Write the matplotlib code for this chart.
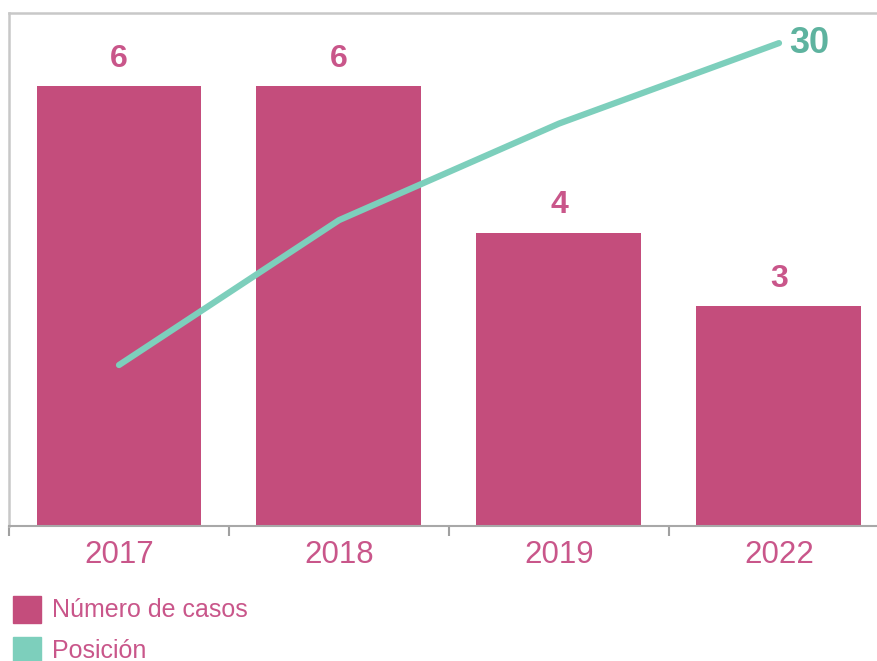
import matplotlib.pyplot as plt
from matplotlib.patches import Rectangle

# data
years = ["2017", "2018", "2019", "2022"]
casos = [6, 6, 4, 3]
posicion = [10, 19, 25, 30]

PINK = "#c44d7c"
TEXT_PINK = "#c9568a"
TEAL = "#7dcfbc"
TEAL_DARK = "#5eb39f"
GRAY = "#c8c8c8"

plt.rcParams['font.family'] = ['Liberation Sans', 'DejaVu Sans']

fig = plt.figure(figsize=(8.78, 6.61), dpi=100)
W, H = 878, 661
# plot area runs off the right edge like in the original
ax = fig.add_axes([9 / W, (H - 526) / H, 880 / W, (526 - 13) / H])

x = list(range(len(years)))
ax.bar(x, casos, width=0.75, color=PINK, zorder=2)
ax.set_xlim(-0.5, len(years) - 0.5)
ax.set_ylim(0, 7)
for xi, v in zip(x, casos):
    ax.annotate(str(v), (xi, v), xytext=(0, 9), textcoords="offset points",
                ha="center", va="bottom", color=TEXT_PINK,
                fontsize=23, fontweight="bold")

ax2 = ax.twinx()
ax2.plot(x, posicion, color=TEAL, lw=4.5, solid_capstyle="round", zorder=3)
ax2.set_ylim(0, 7 * 30 / ((526 - 43) / 73.3))
ax2.annotate(str(posicion[-1]), (x[-1], posicion[-1]), xytext=(7, 0),
             textcoords="offset points", ha="left", va="center",
             color=TEAL_DARK, fontsize=26, fontweight="bold")
ax2.axis("off")

ax.set_yticks([])
ax.set_xticks(x)
ax.set_xticklabels(years, color=TEXT_PINK, fontsize=22.5)
ax.set_xticks([i - 0.5 for i in range(len(years) + 1)], minor=True)
ax.tick_params(axis="x", which="major", length=0, pad=10)
ax.tick_params(axis="x", which="minor", length=7, color="#a0a0a0", width=1.5)
for side in ["top", "left", "right"]:
    ax.spines[side].set_color(GRAY)
    ax.spines[side].set_linewidth(1.8)
ax.spines["bottom"].set_color("#a8a8a8")
ax.spines["bottom"].set_linewidth(1.5)

# legend
items = [("Número de casos", PINK, 596), ("Posición", TEAL, 637)]
for label, col, ytop in items:
    fig.add_artist(Rectangle((13 / W, (H - ytop - 27) / H), 28 / W, 27 / H,
                             transform=fig.transFigure, color=col))
    fig.text(52 / W, (H - ytop - 14) / H, label, color=TEXT_PINK, fontsize=18,
             va="center", ha="left")

fig.savefig("out.png", dpi=100)
